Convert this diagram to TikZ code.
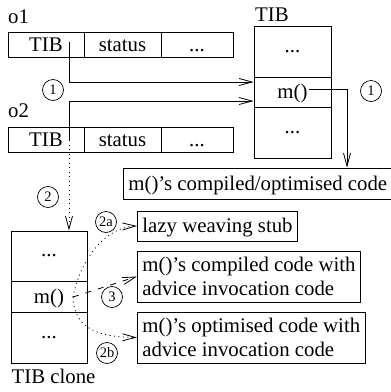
\documentclass[tikz,border=0pt]{standalone}
\usepackage{fontspec}
\setmainfont{Liberation Serif}
\usetikzlibrary{arrows.meta}

\newcommand{\figfont}{\fontsize{20.8}{24.4}\selectfont}
\newcommand{\numfont}{\fontsize{14.5}{16}\selectfont}

\tikzset{
  cell/.style={draw, line width=0.8pt, inner sep=0pt, text height=13pt, text depth=0pt, font=\figfont},
  slot/.style={draw, line width=0.8pt, inner sep=0pt, font=\figfont},
  codebox/.style={draw, line width=0.8pt, inner xsep=5pt, inner ysep=0pt, anchor=west, font=\figfont},
  lbl/.style={inner sep=0pt, anchor=base west, font=\figfont},
  num/.style={draw, circle, line width=0.7pt, inner sep=0pt, minimum size=21pt, font=\numfont},
  arr/.style={line width=0.8pt, -{Straight Barb[length=13pt,width=7pt]}},
  dotarr/.style={arr, dash pattern=on 1pt off 3.5pt},
  dasharr/.style={arr, dash pattern=on 6pt off 7pt}
}

\begin{document}
\begin{tikzpicture}[x=1pt,y=-1pt]
\useasboundingbox (0,0) rectangle (391,392);

% Object o1 and o2
\node[lbl] (o1) at (8,23) {o1};
\node[cell, minimum width=76pt, minimum height=25pt] (o1tib) at (46,44.5) {TIB};
\node[cell, minimum width=77pt, minimum height=25pt] (o1st) at (122.5,44.5) {status};
\node[cell, minimum width=72pt, minimum height=25pt] (o1dots) at (197,44.5) {...};

\node[lbl] (o2) at (8,117) {o2};
\node[cell, minimum width=76pt, minimum height=25pt] (o2tib) at (46,139.5) {TIB};
\node[cell, minimum width=77pt, minimum height=25pt] (o2st) at (122.5,139.5) {status};
\node[cell, minimum width=72pt, minimum height=25pt] (o2dots) at (197,139.5) {...};

% The TIB
\node[lbl] (tiblbl) at (255,21) {TIB};
\node[slot, minimum width=77pt, minimum height=51pt] (tibtop) at (292.5,51.5) {...};
\node[cell, minimum width=77pt, minimum height=30pt] (tibm) at (292.5,92) {m()};
\node[slot, minimum width=77pt, minimum height=51pt] (tibbot) at (292.5,132.5) {...};

% The TIB clone
\node[slot, minimum width=76pt, minimum height=50pt] (clonetop) at (49,256) {...};
\node[cell, minimum width=76pt, minimum height=31pt] (clonem) at (49,296.5) {m()};
\node[slot, minimum width=76pt, minimum height=51pt] (clonebot) at (49,337.5) {...};
\node[lbl] (clonelbl) at (11.5,383) {TIB clone};

% Code boxes
\node[codebox, minimum height=31pt, text height=13pt, text depth=0pt] (code) at (123,183.5) {m()'s compiled/optimised code};
\node[codebox, minimum height=30pt, text height=13pt, text depth=0pt] (lazy) at (137,226) {lazy weaving stub};
\node[codebox, minimum height=51pt, align=left] (compiled) at (137,276.5) {m()'s compiled code with\\advice invocation code};
\node[codebox, minimum height=51pt, align=left] (optimised) at (137,337.5) {m()'s optimised code with\\advice invocation code};

% Step numbers
\node[num] (n1a) at (53,90) {1};
\node[num] (n1b) at (371,91) {1};
\node[num] (n2) at (48,197) {2};
\node[num] (n2a) at (106,222) {2a};
\node[num] (n3) at (112,297) {3};
\node[num] (n2b) at (107,353) {2b};

% Define coordinates for the connector ends
\coordinate (S1) at (69,42);
\coordinate (S2) at (69,140);
\coordinate (M1) at (309,89);
\coordinate (M2) at (347,89);
\coordinate (C1) at (73,297);

% Step 1
\draw[arr] (S1) |- ([yshift=10pt]tibm.west);
\draw[arr] (S2) |- ([yshift=-9pt]tibm.west);
\draw[arr] (M1) -- (M2) -- (M2 |- code.north);

% Step 2
\draw[dotarr] (S2) -- (S2 |- clonetop.north);
\draw[dotarr] (C1) .. controls (80,260) and (105,227) .. (lazy.west);
\draw[dotarr] (C1) .. controls (74,330) and (100,337) .. (optimised.west);

% Step 3
\draw[dasharr] (C1) -- (compiled.west);
\end{tikzpicture}
\end{document}
